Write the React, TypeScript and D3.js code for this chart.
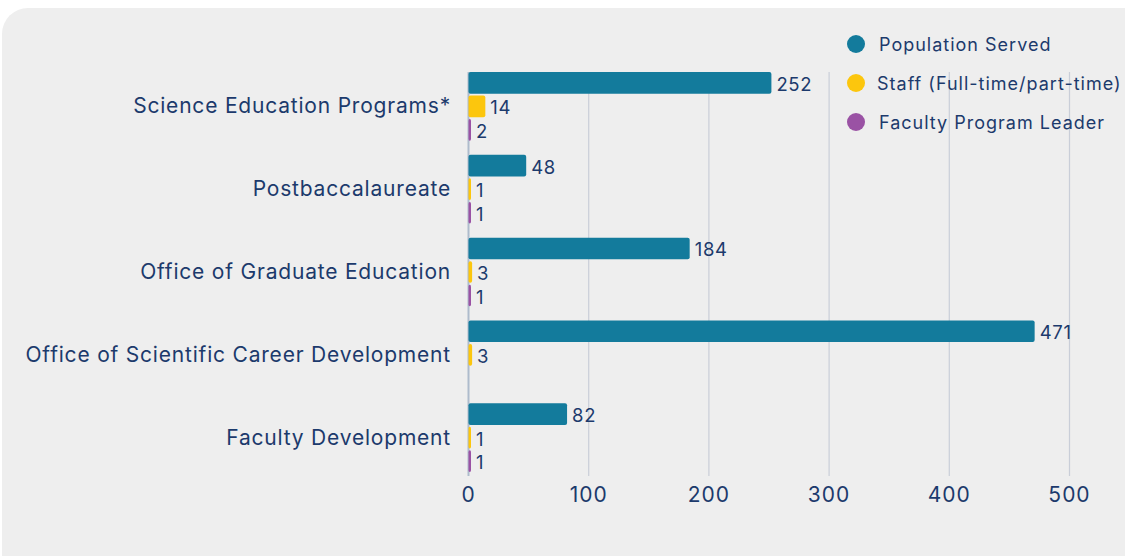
import React from "react";
import * as d3 from "d3";

const categories = [
  "Science Education Programs*",
  "Postbaccalaureate",
  "Office of Graduate Education",
  "Office of Scientific Career Development",
  "Faculty Development",
];
const seriesNames = ["Population Served", "Staff (Full-time/part-time)", "Faculty Program Leader"];
const populationServed: (number | null)[] = [252, 48, 184, 471, 82];
const staff: (number | null)[] = [14, 1, 3, 3, 1];
const facultyLeader: (number | null)[] = [2, 1, 1, null, 1];
const seriesColors = ["#137b9c", "#fcc60d", "#9a52a4"];
const xTicks = [0, 100, 200, 300, 400, 500];

const W = 1125;
const H = 556;
const FONT = "Inter, 'Open Sans', sans-serif";
const TEXT = "#1c3a6c";

export default function App() {
  const x = d3.scaleLinear().domain([0, 500]).range([468.5, 1069.5]);
  const y = d3.scaleBand<string>().domain(categories).range([72, 472]).paddingInner(0.17).paddingOuter(0);
  const sub = d3.scaleBand<string>().domain(seriesNames).range([0, y.bandwidth()]).paddingInner(0.08);
  const seriesValues = [populationServed, staff, facultyLeader];

  return (
    <svg width={W} height={H} style={{ position: "absolute", left: 0, top: 0 }} fontFamily={FONT}>
      <rect x={2} y={8} width={1150} height={575} rx={26} fill="#eeeeee" />
      {xTicks.slice(1).map((t) => (
        <line key={t} x1={x(t)} x2={x(t)} y1={72} y2={476} stroke="#c9ced8" strokeWidth={1.2} />
      ))}
      <line x1={x(0)} x2={x(0)} y1={72} y2={476} stroke="#aebbcc" strokeWidth={2} />
      {categories.map((c, i) => (
        <g key={c} transform={`translate(0,${y(c)})`}>
          <text
            x={451}
            y={y.bandwidth() / 2 - 0.5}
            textAnchor="end"
            dominantBaseline="central"
            fontSize={21}
            letterSpacing={0.8}
            fill={TEXT}
          >
            {c}
          </text>
          {seriesNames.map((s, j) => {
            const v = seriesValues[j][i];
            if (v == null) return null;
            const x0 = x(0);
            const w = Math.max(x(v) - x0, 2.5);
            return (
              <g key={s}>
                <rect x={x0} y={sub(s)} width={w} height={sub.bandwidth()} rx={2} fill={seriesColors[j]} />
                <text
                  x={x0 + w + 5}
                  y={(sub(s) as number) + sub.bandwidth() / 2 + 1}
                  dominantBaseline="central"
                  fontSize={18.5}
                  letterSpacing={0.7}
                  fill={TEXT}
                >
                  {v}
                </text>
              </g>
            );
          })}
        </g>
      ))}
      {xTicks.map((t) => (
        <text
          key={t}
          x={x(t)}
          y={494}
          textAnchor="middle"
          dominantBaseline="central"
          fontSize={21}
          letterSpacing={1}
          fill={TEXT}
        >
          {t}
        </text>
      ))}
      {seriesNames.map((s, j) => (
        <g key={s} transform={`translate(856,${44 + j * 39})`}>
          <circle r={9} fill={seriesColors[j]} />
          <text
            x={j === 1 ? 21 : 23}
            y={0}
            dominantBaseline="central"
            fontSize={18}
            letterSpacing={1}
            fill={TEXT}
          >
            {s}
          </text>
        </g>
      ))}
    </svg>
  );
}
